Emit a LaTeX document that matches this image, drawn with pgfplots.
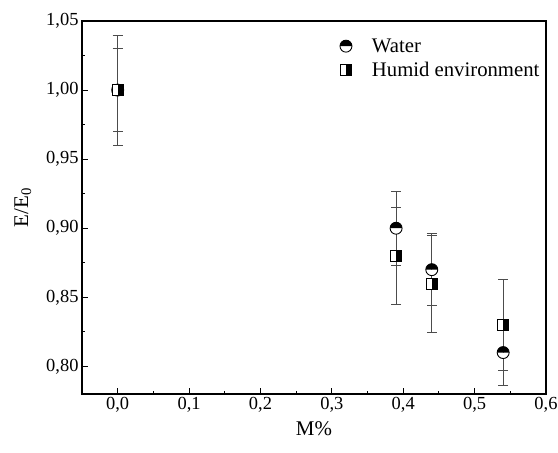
\documentclass[border=0pt]{standalone}
\usepackage{fontspec}
\setmainfont{Liberation Serif}
\usepackage{pgfplots}
\pgfplotsset{compat=1.18}
\pgfdeclareplotmark{hsqr}{%
  \pgfpathrectangle{\pgfpoint{-\pgfplotmarksize}{-\pgfplotmarksize}}{\pgfpoint{\pgfplotmarksize}{2\pgfplotmarksize}}%
  \pgfsetfillcolor{white}\pgfusepathqfill
  \pgfpathrectangle{\pgfpoint{0pt}{-\pgfplotmarksize}}{\pgfpoint{\pgfplotmarksize}{2\pgfplotmarksize}}%
  \pgfsetfillcolor{black}\pgfusepathqfill
  \pgfpathrectangle{\pgfpoint{-\pgfplotmarksize}{-\pgfplotmarksize}}{\pgfpoint{2\pgfplotmarksize}{2\pgfplotmarksize}}%
  \pgfusepathqstroke
}
\pgfdeclareplotmark{hcirc}{%
  \pgfpathmoveto{\pgfpoint{\pgfplotmarksize}{0pt}}%
  \pgfpatharc{0}{-180}{\pgfplotmarksize}\pgfpathclose
  \pgfsetfillcolor{white}\pgfusepathqfill
  \pgfpathmoveto{\pgfpoint{\pgfplotmarksize}{0pt}}%
  \pgfpatharc{0}{180}{\pgfplotmarksize}\pgfpathclose
  \pgfsetfillcolor{black}\pgfusepathqfill
  \pgfpathcircle{\pgfpointorigin}{\pgfplotmarksize}%
  \pgfusepathqstroke
}
\begin{document}
\begin{tikzpicture}
\begin{axis}[
  scale only axis,
  width=464bp, height=373bp,
  xmin=-0.05, xmax=0.6, ymin=0.78, ymax=1.05,
  xtick={0,0.1,...,0.6}, ytick={0.8,0.85,...,1.05},
  minor x tick num=1, minor y tick num=1,
  xtick pos=left, ytick pos=left,
  tick align=inside,
  major tick length=6bp, minor tick length=3.5bp,
  axis line style={line width=1.2pt},
  every tick/.style={line width=1pt, black},
  /pgf/number format/assume math mode=true,
  xticklabel style={/pgf/number format/.cd, fixed, fixed zerofill, precision=1, use comma},
  yticklabel style={/pgf/number format/.cd, fixed, fixed zerofill, precision=2, use comma},
  tick label style={font=\fontsize{18.5}{20}\selectfont},
  label style={font=\fontsize{21}{23}\selectfont},
  xlabel={M\%}, ylabel={E/E\textsubscript{0}},
  xlabel style={yshift=-2bp},
  ylabel style={yshift=8bp},
  legend style={draw=none, fill=none, at={(0.997,0.964)}, anchor=north east,
    font=\fontsize{20.8}{22}\selectfont, row sep=4bp, column sep=18bp,
    nodes={inner sep=2bp}},
  legend cell align=left,
]
\addplot[only marks, black, mark=hcirc, mark size=6pt, mark options={line width=0.9pt},
  error bars/.cd, y dir=both, y explicit, error bar style={line width=0.6pt, black!70}, error mark options={rotate=90, mark size=5bp, line width=0.6pt, black!70}]
  table[x=x, y=y, y error=e] {
x y e
0.00 1.000 0.040
0.39 0.900 0.027
0.44 0.870 0.026
0.54 0.810 0.024
};
\addlegendentry{Water}
\addplot[only marks, black, mark=hsqr, mark size=5.5pt, mark options={line width=0.9pt},
  error bars/.cd, y dir=both, y explicit, error bar style={line width=0.6pt, black!70}, error mark options={rotate=90, mark size=5bp, line width=0.6pt, black!70}]
  table[x=x, y=y, y error=e] {
x y e
0.00 1.000 0.030
0.39 0.880 0.035
0.44 0.860 0.035
0.54 0.830 0.033
};
\addlegendentry{Humid environment}
\end{axis}
\pgfresetboundingbox
\path[use as bounding box] (current axis.south west) ++(-82bp,-59bp) rectangle ++(558bp,453bp);
\end{tikzpicture}
\end{document}
